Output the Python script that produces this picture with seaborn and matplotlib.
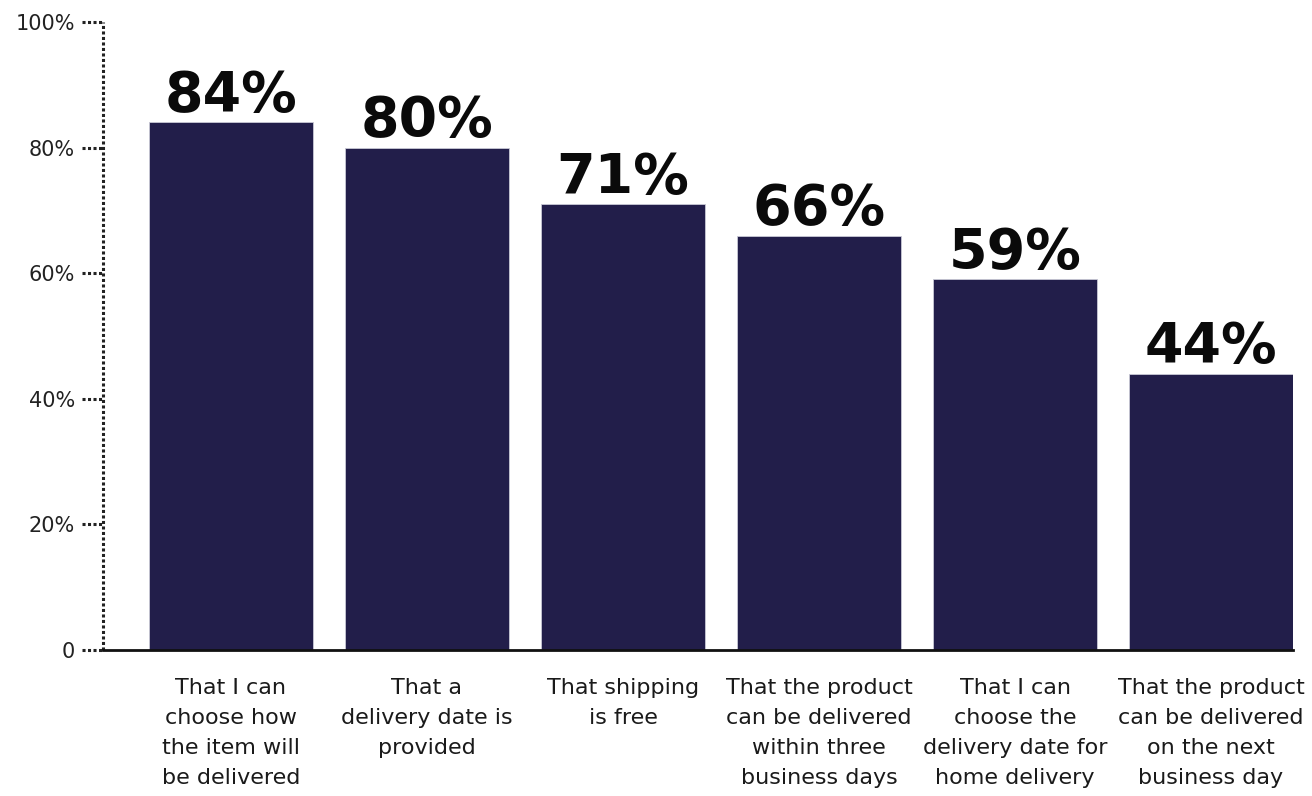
import matplotlib
matplotlib.use("Agg")
import matplotlib.pyplot as plt
import matplotlib.transforms as mtransforms
import seaborn as sns
import pandas as pd

categories = [
    "That I can\nchoose how\nthe item will\nbe delivered",
    "That a\ndelivery date is\nprovided",
    "That shipping\nis free",
    "That the product\ncan be delivered\nwithin three\nbusiness days",
    "That I can\nchoose the\ndelivery date for\nhome delivery",
    "That the product\ncan be delivered\non the next\nbusiness day",
]
values = [84, 80, 71, 66, 59, 44]
value_labels = ["84%", "80%", "71%", "66%", "59%", "44%"]
yticks = [0, 20, 40, 60, 80, 100]
ytick_labels = ["0", "20%", "40%", "60%", "80%", "100%"]

sns.set_theme(style="white")
plt.rcParams["font.family"] = ["DejaVu Sans"]

df = pd.DataFrame({"cat": categories, "val": values})

fig = plt.figure(figsize=(13.12, 7.96), dpi=100)
ax = fig.add_axes([0.0785, 0.1834, 0.907, 0.7890])

sns.barplot(data=df, x="cat", y="val", color="#221e4a", saturation=1,
            width=0.837, ax=ax, edgecolor="#c9c9d6", linewidth=0.6)

ax.set_xlim(-0.653, 5.418)
ax.set_ylim(0, 100)
ax.set_xlabel("")
ax.set_ylabel("")

for i, (v, lab) in enumerate(zip(values, value_labels)):
    ax.text(i, v + 1.8, lab, ha="center", va="baseline", fontsize=40,
            fontweight="bold", color="#0a0a0a")

for s in ["top", "right", "left"]:
    ax.spines[s].set_visible(False)
ax.spines["bottom"].set_color("#111111")
ax.spines["bottom"].set_linewidth(2)

dot = (0, (1.0, 0.8))
ax.plot([0, 0], [0, 1], transform=ax.transAxes, color="#222222",
        ls=dot, lw=2.2, clip_on=False, solid_capstyle="butt",
        dash_capstyle="butt")

ax.set_yticks(yticks)
ax.set_yticklabels(ytick_labels, fontsize=15, color="#222222")
ax.tick_params(axis="y", length=0, pad=20)
trans = mtransforms.blended_transform_factory(ax.transAxes, ax.transData)
for t in yticks:
    ax.plot([-0.018, 0], [t, t], transform=trans, color="#222222",
            ls=dot, lw=2.2, clip_on=False, dash_capstyle="butt")

ax.tick_params(axis="x", length=0, pad=20)
ax.set_xticks(range(len(categories)))
ax.set_xticklabels(categories, fontsize=16, color="#1a1a1a",
                   linespacing=1.62, va="top")

fig.savefig("out.png", dpi=100)
